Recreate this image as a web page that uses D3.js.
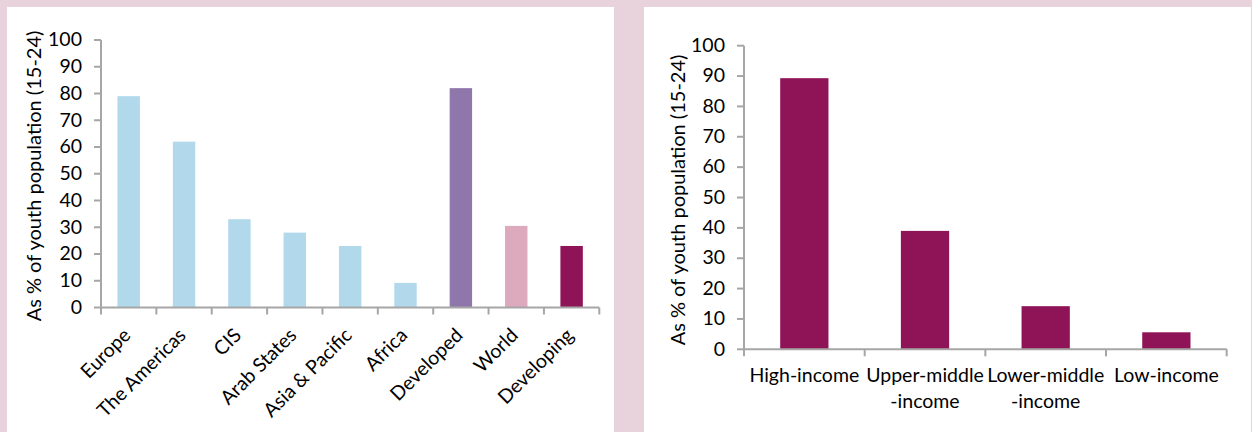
<!DOCTYPE html>
<html>
<head>
<meta charset="utf-8">
<script src="https://cdn.jsdelivr.net/npm/d3@7"></script>
<style>
  html, body { margin: 0; padding: 0; background: #e8d3dd; }
  svg { display: block; }
  text { font-family: Lato, "Open Sans", sans-serif; fill: #000; }
</style>
</head>
<body>
<svg id="chart" width="1252" height="432"></svg>
<script>
// ---- Data ----
const regionCategories = ["Europe", "The Americas", "CIS", "Arab States", "Asia & Pacific", "Africa", "Developed", "World", "Developing"];
const regionValues = [79, 62, 33, 28, 23, 9.2, 82, 30.5, 23];
const regionGroups = ["region", "region", "region", "region", "region", "region", "developed", "world", "developing"];

const incomeCategories = ["High-income", "Upper-middle\n-income", "Lower-middle\n-income", "Low-income"];
const incomeValues = [89.3, 39, 14.2, 5.6];

const yTicks = [0, 10, 20, 30, 40, 50, 60, 70, 80, 90, 100];
const yTitle = "As % of youth population (15-24)";

// ---- Styles ----
const groupColor = {
  region: "#b1d9eb",
  developed: "#9077ab",
  world: "#dda9bd",
  developing: "#8f1457"
};
const incomeColor = "#8f1457";
const axisColor = "#a6a6a6";
const fontSize = 19.5;
const titleSize = 20;

const svg = d3.select("#chart");

// panels
svg.append("rect").attr("x", 7).attr("y", 7).attr("width", 607).attr("height", 425).attr("fill", "#fff");
svg.append("rect").attr("x", 644).attr("y", 7).attr("width", 607).attr("height", 425).attr("fill", "#fff");

function drawChart(opts) {
  const { cats, vals, colors, x0, x1, y0, y100, pad, titleX, titleY, rotated } = opts;
  const g = svg.append("g");
  const y = d3.scaleLinear().domain([0, 100]).range([y0, y100]);
  const xb = d3.scaleBand().domain(d3.range(cats.length)).range([x0, x1])
    .paddingInner(pad).paddingOuter(pad / 2);
  const xl = d3.scaleLinear().domain([0, cats.length]).range([x0, x1]);

  // bars
  g.selectAll("rect.bar").data(vals).join("rect")
    .attr("class", "bar")
    .attr("x", (d, i) => xb(i))
    .attr("width", xb.bandwidth())
    .attr("y", d => y(d))
    .attr("height", d => y(0) - y(d))
    .attr("fill", (d, i) => colors[i]);

  // y axis
  const ya = g.append("g").attr("transform", `translate(${x0},0)`)
    .call(d3.axisLeft(y).tickValues(yTicks).tickSize(7).tickSizeOuter(0).tickPadding(12).offset(0));
  ya.selectAll("path, line").attr("stroke", axisColor).attr("stroke-width", 2);
  ya.selectAll("text").attr("font-size", fontSize).attr("font-family", "Lato").attr("fill", "#000");

  // x axis (ticks at category boundaries)
  const xa = g.append("g").attr("transform", `translate(0,${y0})`)
    .call(d3.axisBottom(xl).tickValues(d3.range(cats.length + 1)).tickSize(7).tickSizeOuter(0).tickFormat("").offset(0));
  xa.selectAll("path, line").attr("stroke", axisColor).attr("stroke-width", 2);

  // x labels
  const cx = i => xb(i) + xb.bandwidth() / 2;
  if (rotated) {
    g.selectAll("text.xl").data(cats).join("text")
      .attr("class", "xl")
      .attr("text-anchor", "end")
      .attr("font-size", fontSize)
      .attr("transform", (d, i) => `translate(${cx(i) + 3},${y0 + 29}) rotate(-45)`)
      .text(d => d);
  } else {
    const t = g.selectAll("text.xl").data(cats).join("text")
      .attr("class", "xl")
      .attr("text-anchor", "middle")
      .attr("font-size", fontSize);
    t.each(function(d, i) {
      const lines = d.split("\n");
      d3.select(this).selectAll("tspan").data(lines).join("tspan")
        .attr("x", cx(i))
        .attr("y", (l, j) => y0 + 33 + j * 26)
        .text(l => l);
    });
  }

  // y title
  g.append("text")
    .attr("text-anchor", "middle")
    .attr("font-size", titleSize)
    .attr("dominant-baseline", "central")
    .attr("transform", `translate(${titleX},${titleY}) rotate(-90)`)
    .text(yTitle);
}

drawChart({
  cats: regionCategories,
  vals: regionValues,
  colors: regionGroups.map(g => groupColor[g]),
  x0: 101, x1: 599.3, y0: 307.5, y100: 40,
  pad: 0.595, titleX: 33, titleY: 176, rotated: true
});

drawChart({
  cats: incomeCategories,
  vals: incomeValues,
  colors: incomeValues.map(() => incomeColor),
  x0: 744, x1: 1226.7, y0: 349.3, y100: 45.7,
  pad: 0.6, titleX: 677, titleY: 200, rotated: false
});
</script>
</body>
</html>
